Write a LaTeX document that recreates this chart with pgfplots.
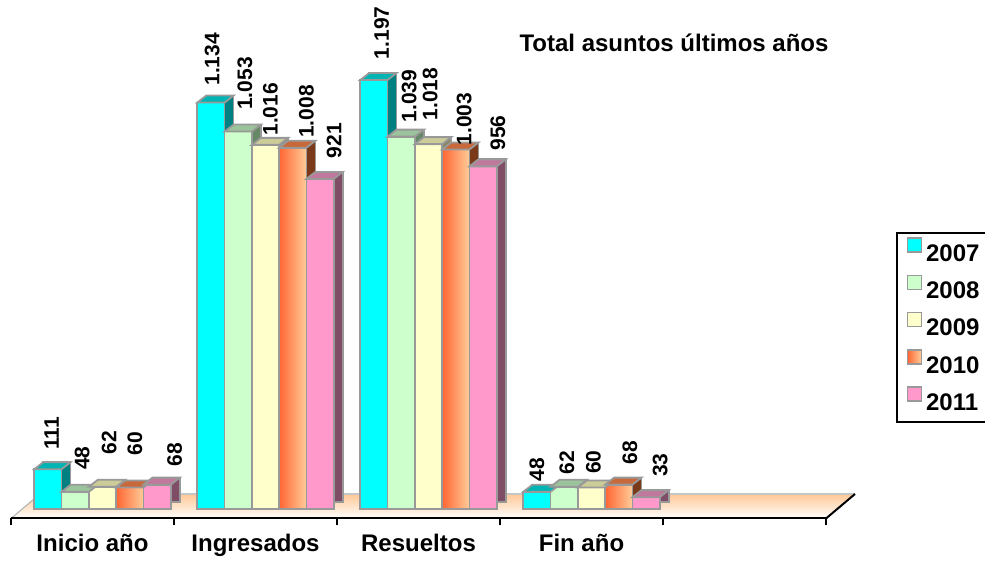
\documentclass[border=0pt]{standalone}
\usepackage{graphicx}
\usepackage{pgfplots}
\pgfplotsset{compat=1.18}
\usepackage{pgfplotstable}
\usepackage{fontspec}
\setmainfont{Liberation Sans}

\definecolor{c1f}{HTML}{00FFFF}\definecolor{c1t}{HTML}{00B4B4}\definecolor{c1s}{HTML}{008080}
\definecolor{c2f}{HTML}{CCFFCC}\definecolor{c2t}{HTML}{9CC49C}\definecolor{c2s}{HTML}{668866}
\definecolor{c3f}{HTML}{FFFFCC}\definecolor{c3t}{HTML}{CCCC99}\definecolor{c3s}{HTML}{888866}
\definecolor{c4a}{HTML}{FF6633}\definecolor{c4b}{HTML}{FFCC99}\definecolor{c4t}{HTML}{C8693C}\definecolor{c4s}{HTML}{7A3A1A}
\definecolor{c5f}{HTML}{FF99CC}\definecolor{c5t}{HTML}{C0789C}\definecolor{c5s}{HTML}{804D66}
\definecolor{edge}{HTML}{999999}
\definecolor{floor}{HTML}{FFC896}

% top face of a 3D bar, drawn at the top of each bar
\pgfdeclareplotmark{topface}{%
  \pgfpathmoveto{\pgfqpoint{-6.825pt}{0pt}}%
  \pgfpathlineto{\pgfqpoint{-2.325pt}{3.5pt}}%
  \pgfpathlineto{\pgfqpoint{11.325pt}{3.5pt}}%
  \pgfpathlineto{\pgfqpoint{6.825pt}{0pt}}%
  \pgfpathclose
  \pgfusepathqfillstroke
}

% x: category, v: value, dx/gp: label offsets (pt)
\pgfplotstableread{
x v dx gp
0 111 1.85 9.3
1 1134 0.65 8
2 1197 3.85 10
3 48 0 4.7
}\tA
\pgfplotstableread{
x v dx gp
0 48 3.5 10.5
1 1053 3.35 10.5
2 1039 4 6.7
3 62 1.35 5.8
}\tB
\pgfplotstableread{
x v dx gp
0 62 3.35 15.8
1 1016 2.5 4.15
2 1018 0.85 11.5
3 60 1 6.3
}\tC
\pgfplotstableread{
x v dx gp
0 60 2.5 15.5
1 1008 6.75 4.5
2 1003 4.15 1.65
3 68 5.5 9.65
}\tD
\pgfplotstableread{
x v dx gp
0 68 8.75 8.85
1 921 7 10
2 956 7.4 7.5
3 33 7 9.65
}\tE

\pgfplotsset{
  sidebar/.style 2 args={forget plot, ybar, bar width=13.65pt, bar shift=#1,
    xshift=4.5pt, yshift=3.5pt, fill=#2, draw=edge, line width=0.9pt},
  topbar/.style 2 args={forget plot, only marks, mark=topface, xshift=#1,
    mark options={fill=#2, draw=edge, line width=0.9pt}},
  frontbar/.style 2 args={ybar, bar width=13.65pt, bar shift=#1, draw=edge, line width=0.9pt, #2,
    nodes near coords={\rotatebox{90}{\pgfmathprintnumber{\pgfplotspointmeta}}},
    visualization depends on={\thisrow{dx} \as \ldx},
    visualization depends on={\thisrow{gp} \as \lgp},
    every node near coord/.append style={xshift={#1+\ldx*1pt}, yshift=\lgp*1pt, anchor=south,
      inner sep=0pt, text=black, font=\bfseries\fontsize{10.5}{12}\selectfont},
    legend image code/.code={\draw[#2, line width=0.8pt, draw=edge] (0pt,1.2pt) rectangle (7pt,8.2pt);}},
}

\begin{document}
\begin{tikzpicture}
\path[use as bounding box] (0,0) rectangle (492.5pt,280.5pt);
\begin{axis}[
  at={(5.5pt,21.25pt)}, anchor=south west,
  x=81.5pt, y=0.1792pt,
  xmin=-0.5, xmax=4.5, ymin=-26.5, ymax=1420,
  clip=false, axis on top,
  axis x line*=bottom, axis y line=none,
  axis line style={line width=1pt, black},
  xtick={-0.5,0.5,1.5,2.5,3.5,4.5},
  x tick label as interval,
  xticklabels={Inicio año, Ingresados, Resueltos, Fin año, {}},
  tick align=outside, major tick length=3.5pt,
  xtick style={black, line width=1pt},
  xticklabel style={font=\bfseries\fontsize{12}{14}\selectfont, anchor=base, yshift=-13pt},
  /pgf/number format/.cd, 1000 sep={.}, assume math mode=true, /pgfplots/.cd,
  legend style={at={(axis description cs:1.0853,0.5526)}, anchor=north west, draw=black,
    line width=1pt, font=\bfseries\fontsize{12}{14}\selectfont, inner xsep=5pt, inner ysep=2.2pt,
    row sep=3.05pt, cells={anchor=west}},
  legend cell align=left,
]
% floor
\fill[top color=floor, bottom color=white] (axis cs:-0.5,-26.5) -- (axis cs:4.5,-26.5)
  -- (axis cs:4.678,41.9) -- (axis cs:-0.322,41.9) -- cycle;
\draw[gray!45, line width=0.6pt] (axis cs:-0.322,41.9) -- (axis cs:4.678,41.9);
\draw[gray!55, line width=0.6pt] (axis cs:-0.5,-26.5) -- (axis cs:-0.322,41.9);
\draw[black, line width=1pt] (axis cs:4.5,-26.5) -- (axis cs:4.678,41.9);

\addplot[sidebar={-22.3pt}{c1s}] table[x=x,y=v]{\tA};
\addplot[topbar={-22.3pt}{c1t}] table[x=x,y=v]{\tA};
\addplot[frontbar={-22.3pt}{fill=c1f}] table[x=x,y=v]{\tA};
\addlegendentry{2007}
\addplot[sidebar={-8.65pt}{c2s}] table[x=x,y=v]{\tB};
\addplot[topbar={-8.65pt}{c2t}] table[x=x,y=v]{\tB};
\addplot[frontbar={-8.65pt}{fill=c2f}] table[x=x,y=v]{\tB};
\addlegendentry{2008}
\addplot[sidebar={5pt}{c3s}] table[x=x,y=v]{\tC};
\addplot[topbar={5pt}{c3t}] table[x=x,y=v]{\tC};
\addplot[frontbar={5pt}{fill=c3f}] table[x=x,y=v]{\tC};
\addlegendentry{2009}
\addplot[sidebar={18.65pt}{c4s}] table[x=x,y=v]{\tD};
\addplot[topbar={18.65pt}{c4t}] table[x=x,y=v]{\tD};
\addplot[frontbar={18.65pt}{left color=c4a, right color=c4b}, restrict x to domain=0:0] table[x=x,y=v]{\tD};
\addlegendentry{2010}
\addplot[frontbar={18.65pt}{left color=c4a, right color=c4b}, restrict x to domain=1:1, forget plot] table[x=x,y=v]{\tD};
\addplot[frontbar={18.65pt}{left color=c4a, right color=c4b}, restrict x to domain=2:2, forget plot] table[x=x,y=v]{\tD};
\addplot[frontbar={18.65pt}{left color=c4a, right color=c4b}, restrict x to domain=3:3, forget plot] table[x=x,y=v]{\tD};
\addplot[sidebar={32.3pt}{c5s}] table[x=x,y=v]{\tE};
\addplot[topbar={32.3pt}{c5t}] table[x=x,y=v]{\tE};
\addplot[frontbar={32.3pt}{fill=c5f}] table[x=x,y=v]{\tE};
\addlegendentry{2011}
\end{axis}
\node[anchor=base, font=\bfseries\fontsize{12}{14}\selectfont] at (337pt,254.65pt) {Total asuntos últimos años};
\end{tikzpicture}
\end{document}
